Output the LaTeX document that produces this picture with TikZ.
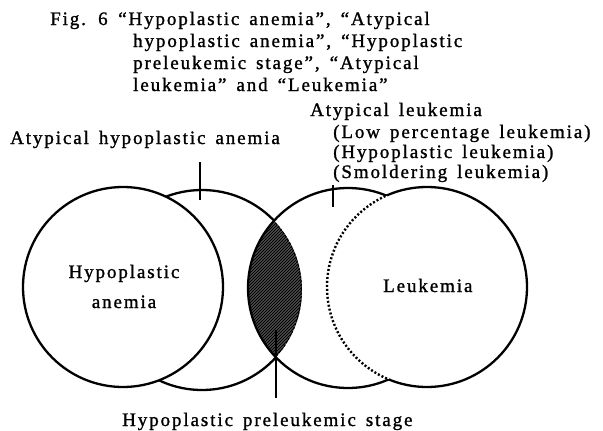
\documentclass[tikz,border=0pt]{standalone}
\usepackage{fontspec}
\setmainfont{Liberation Serif}[LetterSpace=10,WordSpace=1.5,FakeBold=1.2]
\begin{document}
\begin{tikzpicture}[x=1pt,y=-1pt,
  ring/.style={line width=2.3pt},
  dotring/.style={line width=2.4pt, dash pattern=on 2pt off 2pt},
  hatch/.style={line width=1.5pt},
  lbl/.style={font=\fontsize{19}{23}\selectfont, inner sep=0pt},
  tickline/.style={line width=1.8pt}]
\useasboundingbox (0,0) rectangle (603,431);
\coordinate (A) at (123,287);
\coordinate (B) at (202,290);
\coordinate (C) at (348,288);
\coordinate (D) at (427,287);
% circle A: Hypoplastic anemia
\draw[ring] (A) circle (100pt);
% circle B outside A and C
\begin{scope}[even odd rule]
  \clip (-10,-10) rectangle (613,441) (A) circle (100pt) (C) circle (100pt);
  \draw[ring] (B) circle (100pt);
\end{scope}
% circle C outside D
\begin{scope}[even odd rule]
  \clip (-10,-10) rectangle (613,441) (D) circle (100pt);
  \draw[ring] (C) circle (100pt);
\end{scope}
% circle D outside C solid
\begin{scope}[even odd rule]
  \clip (-10,-10) rectangle (613,441) (C) circle (100pt);
  \draw[ring] (D) circle (100pt);
\end{scope}
% circle D inside C dotted
\begin{scope}
  \clip (C) circle (100pt);
  \draw[dotring] (D) circle (100pt);
\end{scope}
% lens hatch
\begin{scope}
  \clip (B) circle (100pt);
  \clip (C) circle (100pt);
  \foreach \k in {460,463,...,670} \draw[hatch] (\k-400,400) -- (\k-200,200);
  \draw[dotring] (B) circle (100pt);
\end{scope}
% texts
\node[lbl, anchor=base west] (fig) at (50,25) {Fig. 6};
\node[lbl, anchor=base west] (cap1) at (118,25) {“Hypoplastic anemia”, “Atypical};
\node[lbl, anchor=base west] (cap2) at (133,47) {hypoplastic anemia”, “Hypoplastic};
\node[lbl, anchor=base west] (cap3) at (133,69) {preleukemic stage”, “Atypical};
\node[lbl, anchor=base west] (cap4) at (133,91) {leukemia” and “Leukemia”};
\node[lbl, anchor=base west] (aha) at (10,144) {Atypical hypoplastic anemia};
\node[lbl, anchor=base west] (al) at (310,116) {Atypical leukemia};
\node[lbl, anchor=base west] (al1) at (333,138) {(Low percentage leukemia)};
\node[lbl, anchor=base west] (al2) at (333,158) {(Hypoplastic leukemia)};
\node[lbl, anchor=base west] (al3) at (333,178) {(Smoldering leukemia)};
\node[lbl, anchor=base] (ha1) at (124,278) {Hypoplastic};
\node[lbl, anchor=base] (ha2) at (124,308) {anemia};
\node[lbl, anchor=base west] (leu) at (383,292) {Leukemia};
\node[lbl, anchor=base west] (hps) at (122,426) {Hypoplastic preleukemic stage};
% ticks
\coordinate (t1a) at (200,162); \coordinate (t1b) at (200,200);
\coordinate (t2a) at (333,185); \coordinate (t2b) at (333,207);
\coordinate (t3a) at (276,330); \coordinate (t3b) at (276,398);
\draw[tickline] (t1a) -- (t1b);
\draw[tickline] (t2a) -- (t2b);
\draw[tickline] (t3a) -- (t3b);
\end{tikzpicture}
\end{document}
